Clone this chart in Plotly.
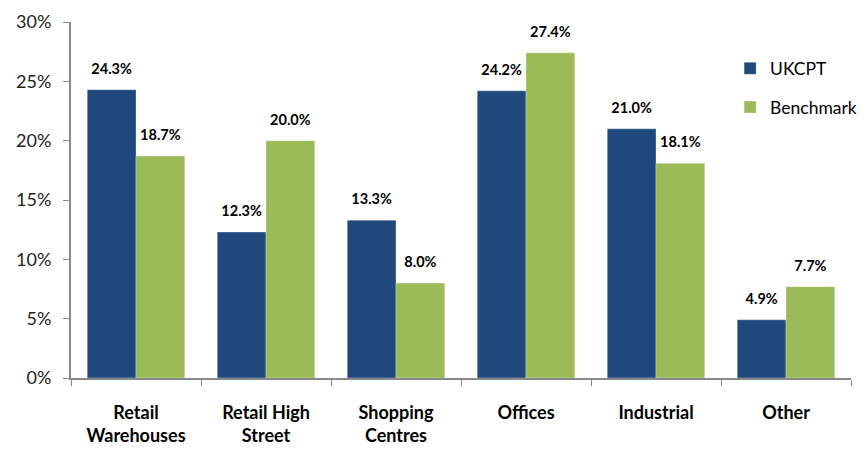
import plotly.graph_objects as go

categories = ["Retail Warehouses", "Retail High Street", "Shopping Centres",
              "Offices", "Industrial", "Other"]
tick_labels = ["<b>Retail</b><br><b>Warehouses</b>", "<b>Retail High</b><br><b>Street</b>",
               "<b>Shopping</b><br><b>Centres</b>", "<b>Offices</b>", "<b>Industrial</b>",
               "<b>Other</b>"]
ukcpt = [24.3, 12.3, 13.3, 24.2, 21.0, 4.9]
benchmark = [18.7, 20.0, 8.0, 27.4, 18.1, 7.7]

FONT = "Lato, 'Open Sans', sans-serif"
series = [("UKCPT", ukcpt, "#1F497D"), ("Benchmark", benchmark, "#9BBB59")]

fig = go.Figure()
for name, vals, color in series:
    fig.add_trace(go.Bar(
        x=categories, y=vals, name=name, legendgroup=name,
        offsetgroup=name,
        marker=dict(color=color, line=dict(color="rgba(255,255,255,0.6)", width=0.5)),
    ))

# value labels sit a little above each bar, grouped alongside the bars
for name, vals, color in series:
    fig.add_trace(go.Scatter(
        x=categories, y=vals, mode="markers+text", offsetgroup=name,
        marker=dict(size=18, opacity=0), showlegend=False, hoverinfo="skip",
        text=[f"<b>{v:.1f}%</b>" for v in vals], textposition="top center",
        textfont=dict(family=FONT, size=14.5, color="#000000"),
        cliponaxis=False,
    ))

fig.update_layout(
    width=865, height=449,
    margin=dict(l=71, r=14, t=22, b=71, autoexpand=False),
    paper_bgcolor="white", plot_bgcolor="white",
    barmode="group", bargap=0.25, bargroupgap=0,
    scattermode="group", scattergap=0.25,
    font=dict(family=FONT, color="#000000"),
    legend=dict(x=0.845, y=0.92, xanchor="left", yanchor="top",
                font=dict(family=FONT, size=17.5, color="#000000"),
                traceorder="grouped", tracegroupgap=13,
                itemwidth=30, bgcolor="rgba(0,0,0,0)"),
    xaxis=dict(
        tickmode="array", tickvals=categories, ticktext=tick_labels,
        tickson="boundaries", ticks="outside", ticklen=6, tickcolor="#888888",
        showline=True, linecolor="#888888", linewidth=2,
        tickfont=dict(family=FONT, size=18, color="#000000"),
        ticklabelstandoff=17,
        showgrid=False,
    ),
    yaxis=dict(
        range=[0, 30], dtick=5, ticksuffix="%",
        ticks="outside", ticklen=6, tickcolor="#888888",
        showline=True, linecolor="#888888", linewidth=2,
        tickfont=dict(family=FONT, size=18, color="#222222"),
        showgrid=False, zeroline=False, ticklabelstandoff=8,
    ),
)

fig.write_html("out.html")
